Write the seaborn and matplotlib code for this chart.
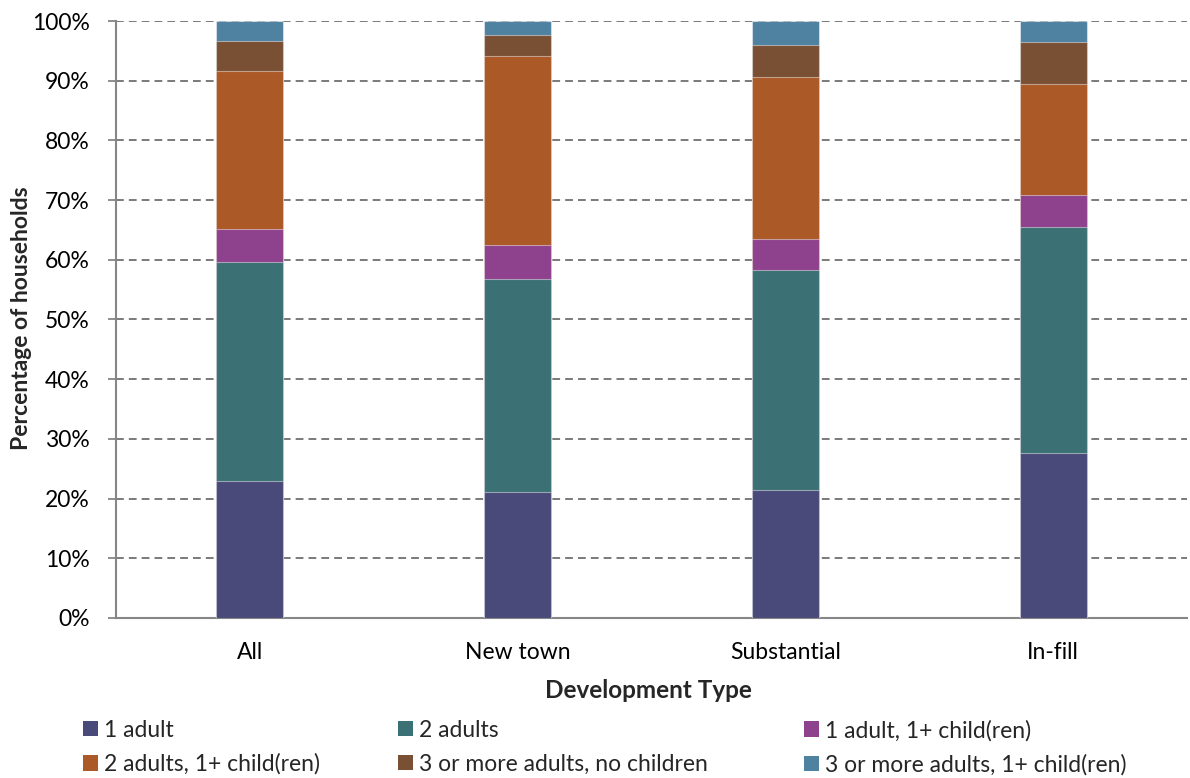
import matplotlib
matplotlib.use("Agg")
import matplotlib.pyplot as plt
from matplotlib.patches import Patch
import numpy as np
import pandas as pd
import seaborn as sns

# Household composition by development type (percent of households)
categories = ["All", "New town", "Substantial", "In-fill"]
series_names = [
    "1 adult",
    "2 adults",
    "1 adult, 1+ child(ren)",
    "2 adults, 1+ child(ren)",
    "3 or more adults, no children",
    "3 or more adults, 1+ child(ren)",
]
one_adult = [23.0, 21.1, 21.5, 27.6]
two_adults = [36.6, 35.6, 36.8, 37.9]
one_adult_children = [5.5, 5.7, 5.1, 5.4]
two_adults_children = [26.6, 31.7, 27.3, 18.6]
three_plus_no_children = [5.0, 3.5, 5.2, 7.0]
three_plus_children = [3.3, 2.4, 4.1, 3.5]

colors = ["#4A4A7A", "#3B7174", "#8E418C", "#AB5927", "#7A5035", "#4F81A0"]

series = [one_adult, two_adults, one_adult_children,
          two_adults_children, three_plus_no_children, three_plus_children]

df = pd.DataFrame({name: vals for name, vals in zip(series_names, series)},
                  index=categories)
cum = df.cumsum(axis=1)

sns.set_style("white")
plt.rcParams["font.family"] = ["Lato", "DejaVu Sans"]
FS = 16.5

fig = plt.figure(figsize=(11.9, 7.78), dpi=100)
ax = fig.add_axes([0.0975, 0.2057, 0.9, 0.7673])

# Stacked bars: draw cumulative totals from the top layer down
for name, color in reversed(list(zip(series_names, colors))):
    layer = pd.DataFrame({"type": categories, "value": cum[name].values})
    sns.barplot(data=layer, x="type", y="value", color=color, width=0.25,
                saturation=1, edgecolor=(1, 1, 1, 0.45), linewidth=0.8,
                ax=ax, zorder=3)

ax.set_ylim(0, 100)
ax.set_xlim(-0.5, 3.5)
ax.set_yticks(np.arange(0, 101, 10))
ax.set_yticklabels([f"{v}%" for v in range(0, 101, 10)])

ax.yaxis.grid(True, color="#7a7a7a", linestyle=(0, (4, 2.6)), linewidth=1.4)
ax.xaxis.grid(False)
ax.set_axisbelow(True)

for side in ["top", "right"]:
    ax.spines[side].set_visible(False)
for side in ["left", "bottom"]:
    ax.spines[side].set_color("#868686")
    ax.spines[side].set_linewidth(1.5)

ax.tick_params(axis="y", which="major", left=True, length=6, width=1.3,
               color="#868686", labelsize=FS, pad=13, labelcolor="black")
ax.tick_params(axis="x", bottom=False, labelsize=FS, pad=14, labelcolor="black")

ax.set_xlabel("")
ax.set_ylabel("")
fig.text(648.5 / 1190, 1 - 691 / 778, "Development Type", fontsize=17.5,
         fontweight="bold", ha="center", va="center")
fig.text(22 / 1190, 1 - 318.5 / 778, "Percentage of households", fontsize=FS,
         fontweight="bold", rotation=90, ha="center", va="center")

# Legend laid out in three columns, two rows
handles = [Patch(facecolor=c, edgecolor="none") for c in colors]
col_x = [0.0697, 0.3345, 0.6756]
for i, x in enumerate(col_x):
    idx = [i, i + 3]
    fig.legend([handles[j] for j in idx], [series_names[j] for j in idx],
               loc="upper left", bbox_to_anchor=(x, 0.075),
               bbox_transform=fig.transFigure, frameon=False,
               fontsize=FS, handlelength=0.65, handleheight=0.65,
               handletextpad=0.25, labelspacing=0.56, borderpad=0,
               borderaxespad=0)

fig.savefig("out.png", dpi=100)
